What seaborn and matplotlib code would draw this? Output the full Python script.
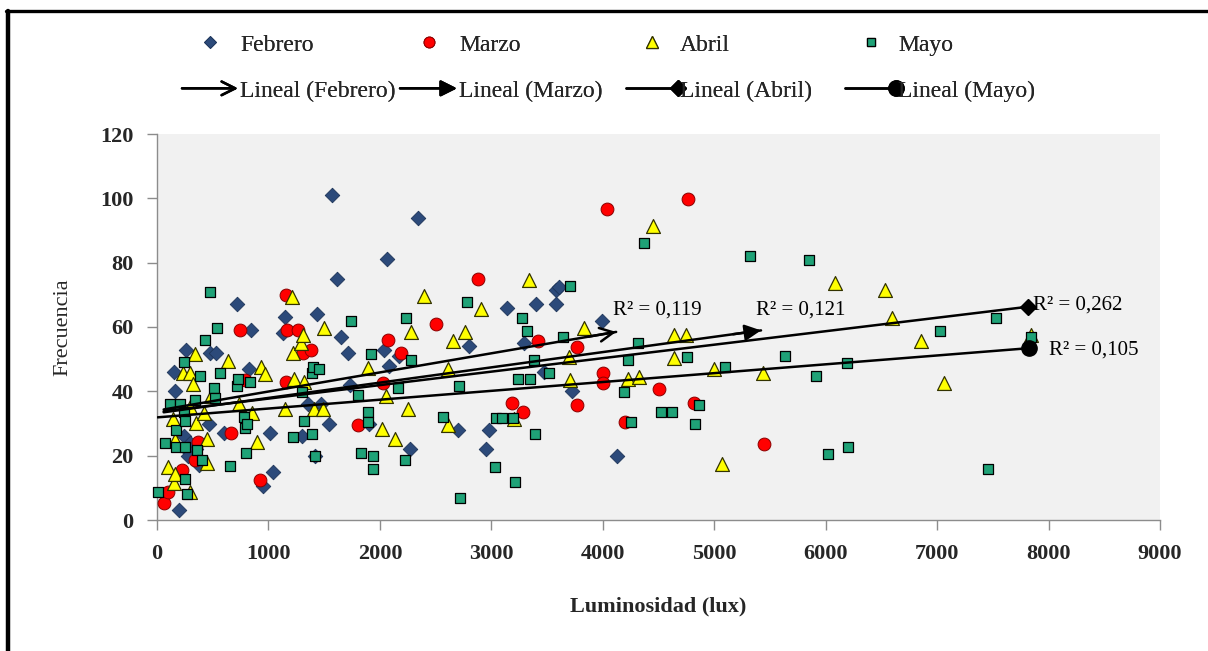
import numpy as np
import pandas as pd
import matplotlib
matplotlib.use("Agg")
import matplotlib.pyplot as plt
import seaborn as sns
from matplotlib.lines import Line2D
from matplotlib.patches import FancyArrowPatch
from matplotlib.legend_handler import HandlerBase

# --- Luminosidad (lux) y frecuencia por mes ---
feb_lux = [1570, 2338, 2060, 1615, 718, 1440, 1145, 840, 1135, 1650, 1710, 2040, 2084, 2174, 2800,
           260, 480, 525, 150, 825, 158, 1734, 1352, 1471, 1540, 470, 604, 1010, 1305, 1900,
           2697, 2975, 245, 260, 300, 280, 350, 380, 1037, 948, 2270, 2948, 194, 1415, 3145,
           3400, 3290, 3579, 3609, 3579, 3997, 3470, 3725, 4132]
feb_freq = [101, 94, 81, 75, 67, 64, 63, 59, 58, 57, 52, 53, 48, 51, 54,
            53, 52, 52, 46, 47, 40, 42, 36, 36, 30, 30, 27, 27, 26, 30,
            28, 28, 26, 22, 24, 20, 22, 17, 15, 10.5, 22, 22, 3, 20, 66,
            67, 55, 71.5, 72.5, 67, 62, 46, 40, 20]

mar_lux = [66, 100, 222, 338, 365, 664, 747, 790, 925, 1155, 1163, 1262, 1307, 1381, 1157,
           2075, 2189, 2024, 1803, 2503, 2876, 3420, 3188, 3287, 3773, 4006, 4006, 3773,
           4500, 4820, 4200, 5448, 4036, 4766]
mar_freq = [5.4, 8.7, 15.5, 18.5, 24.3, 27, 59, 43.5, 12.5, 70, 59, 59, 52, 53, 43,
            56, 52, 42.5, 29.6, 61, 75, 55.5, 36.4, 33.5, 53.7, 45.8, 42.5, 35.8,
            40.6, 36.3, 30.6, 23.6, 96.6, 99.8]

abr_lux = [100, 140, 155, 161, 165, 230, 299, 300, 300, 325, 345, 350, 425, 450, 450,
           484, 640, 733, 850, 897, 933, 969, 1151, 1211, 1217, 1232, 1292, 1313, 1316,
           1405, 1486, 1495, 1890, 2015, 2054, 2135, 2250, 2278, 2398, 2607, 2607, 2652,
           2760, 2903, 3200, 3340, 3700, 3710, 3833, 4222, 4327, 4455, 4640, 4745, 4640,
           5000, 5442, 5066, 6082, 6533, 6598, 6853, 7063, 7840]
abr_freq = [16.6, 31.3, 11.4, 14.4, 25, 45.6, 45.6, 8.7, 35, 42.2, 51.6, 30.3, 33.4, 25.3, 17.6,
            38.5, 49.5, 36, 33.2, 24.4, 47.7, 45.4, 34.4, 69.4, 52, 43.7, 55, 57.5, 43,
            34.4, 34.4, 59.6, 47.4, 28.2, 38.5, 25.2, 34.4, 58.5, 69.6, 46.8, 29.5, 55.6,
            58.5, 65.6, 31.3, 74.6, 50.6, 43.5, 59.7, 43.8, 44.6, 91.5, 57.5, 57.5, 50.3,
            46.8, 45.6, 17.4, 73.6, 71.5, 62.7, 55.6, 42.5, 57.5]

may_lux = [12, 72, 120, 170, 170, 209, 239, 245, 250, 251, 255, 265, 345, 356, 383,
           405, 428, 475, 508, 520, 536, 568, 656, 718, 724, 785, 789, 798, 810, 837,
           1217, 1298, 1318, 1387, 1387, 1400, 1456, 1417, 1740, 1800, 1830, 1890, 1890,
           1920, 1935, 1935, 2165, 2228, 2237, 2280, 2566, 2712, 2721, 2780, 3037, 3041,
           3096, 3190, 3212, 3241, 3273, 3319, 3343, 3379, 3391, 3520, 3645, 3706, 4192,
           4222, 4250, 4315, 4374, 4521, 4620, 4760, 4828, 4864, 5098, 5322, 5633, 5846,
           5917, 6019, 6189, 6204, 7025, 7460, 7526, 7845]
may_freq = [8.7, 23.8, 36, 28, 22.8, 36, 49, 33.7, 22.7, 12.6, 30.9, 8.1, 37.2, 21.8, 44.8,
            18.6, 55.9, 70.8, 40.9, 37.8, 59.8, 45.8, 16.7, 41.7, 43.7, 32, 28.5, 20.7, 29.8, 43,
            25.9, 39.9, 30.7, 26.7, 45.7, 47.7, 46.8, 19.9, 62, 38.9, 20.7, 33.7, 30.6,
            51.7, 19.8, 15.8, 40.9, 18.7, 62.9, 49.7, 31.9, 41.7, 6.7, 67.8, 16.6, 31.8,
            31.8, 31.8, 11.9, 43.7, 62.9, 58.9, 43.7, 49.8, 26.7, 45.8, 57, 72.8, 39.7,
            49.7, 30.6, 55, 86, 33.7, 33.7, 50.8, 29.7, 35.8, 47.7, 82, 51, 80.8,
            44.9, 20.5, 48.9, 22.6, 58.9, 15.8, 62.7, 56.8]

months = ["Febrero", "Marzo", "Abril", "Mayo"]

# Tendencias lineales: rango en x, ordenada y pendiente, y su R²
trend_x0 = [60, 60, 60, 6]
trend_x1 = [4120, 5420, 7816, 7826]
trend_b = [34.0, 33.2, 33.55, 31.9]
trend_m = [0.00594, 0.00475, 0.00419, 0.00275]
r2_labels = ["R² = 0,119", "R² = 0,121", "R² = 0,262", "R² = 0,105"]
r2_pos = [(4090, 65.3), (5372, 65.3), (7860, 66.8), (8000, 52.8)]

x_ticks = list(range(0, 9001, 1000))
y_ticks = list(range(0, 121, 20))

df = pd.concat([
    pd.DataFrame({"lux": feb_lux, "freq": feb_freq, "mes": "Febrero"}),
    pd.DataFrame({"lux": mar_lux, "freq": mar_freq, "mes": "Marzo"}),
    pd.DataFrame({"lux": abr_lux, "freq": abr_freq, "mes": "Abril"}),
    pd.DataFrame({"lux": may_lux, "freq": may_freq, "mes": "Mayo"}),
], ignore_index=True)

styles = {
    "Febrero": dict(marker="D", s=55, color="#2c4a7a", edgecolor="#1d3458", linewidth=0.6),
    "Marzo": dict(marker="o", s=85, color="#ff0000", edgecolor="#8a0000", linewidth=0.7),
    "Abril": dict(marker="^", s=100, color="#ffff00", edgecolor="#333300", linewidth=0.9),
    "Mayo": dict(marker="s", s=42, color="#1fa277", edgecolor="#000000", linewidth=0.9),
}
tips = {"Febrero": "->", "Marzo": "-|>", "Abril": "D", "Mayo": "o"}

# Posición (px) del inicio de cada columna de la leyenda
legend_cols = [182, 400, 626, 845]
legend_hlen = [56, 57, 52, 51]

sns.set_theme(style="white")
plt.rcParams["font.family"] = ["Liberation Serif", "DejaVu Serif"]

W, H = 1208, 651
fig = plt.figure(figsize=(W / 100, H / 100), dpi=100)
fig.patch.set_facecolor("white")
ax = fig.add_axes([157 / W, 131 / H, 1003 / W, 386 / H])
ax.set_facecolor("#f1f1f1")

for i, mes in enumerate(months):
    sub = df[df["mes"] == mes]
    sns.scatterplot(data=sub, x="lux", y="freq", ax=ax, legend=False,
                    zorder=3 + i, clip_on=False, **styles[mes])

for i, mes in enumerate(months):
    xs = np.array([trend_x0[i], trend_x1[i]], dtype=float)
    ys = trend_b[i] + trend_m[i] * xs
    sns.lineplot(x=xs, y=ys, ax=ax, color="black", linewidth=1.8, sort=False,
                 zorder=10, estimator=None)
    tip = tips[mes]
    if tip in ("->", "-|>"):
        back = xs[1] - 250
        ax.annotate("", xy=(xs[1], ys[1]), xytext=(back, trend_b[i] + trend_m[i] * back),
                    arrowprops=dict(arrowstyle=tip + ",head_length=0.7,head_width=0.35",
                                    color="black", lw=1.8, shrinkA=0, shrinkB=0,
                                    mutation_scale=14), zorder=11)
    else:
        ax.plot([xs[1]], [ys[1]], marker=tip, color="black",
                markersize=8 if tip == "D" else 11, linestyle="None", zorder=11,
                clip_on=False)
    tx, ty = r2_pos[i]
    ax.text(tx, ty, r2_labels[i], ha="left", va="center", fontsize=15, color="black",
            zorder=12)

ax.set_xlim(0, 9000)
ax.set_ylim(0, 120)
ax.set_xticks(x_ticks)
ax.set_yticks(y_ticks)
ax.set_xticklabels([str(v) for v in x_ticks], fontsize=16, fontweight="bold")
ax.set_yticklabels([str(v) for v in y_ticks], fontsize=16, fontweight="bold")
ax.tick_params(axis="both", direction="out", length=7, width=1, color="#8c8c8c",
               pad=10, left=True, bottom=True)
for side in ("top", "right"):
    ax.spines[side].set_visible(False)
for side in ("left", "bottom"):
    ax.spines[side].set_color("#8c8c8c")
    ax.spines[side].set_linewidth(1)
ax.grid(False)
ax.set_xlabel("Luminosidad (lux)", fontsize=16, fontweight="bold", labelpad=24)
ax.set_ylabel("Frecuencia", fontsize=16, labelpad=20)


class TrendHandler(HandlerBase):
    def __init__(self, tip):
        super().__init__()
        self.tip = tip

    def create_artists(self, legend, orig_handle, xdescent, ydescent, width, height,
                       fontsize, trans):
        y = height / 2 - ydescent
        x0, x1 = -xdescent, width - xdescent
        if self.tip in ("->", "-|>"):
            arr = FancyArrowPatch((x0, y), (x1, y),
                                  arrowstyle=self.tip + ",head_length=0.7,head_width=0.35",
                                  mutation_scale=14, color="black", lw=1.8,
                                  shrinkA=0, shrinkB=0, transform=trans)
            return [arr]
        line = Line2D([x0, x1], [y, y], color="black", lw=1.8, transform=trans)
        mk = Line2D([x1], [y], marker=self.tip, color="black", linestyle="None",
                    markersize=8 if self.tip == "D" else 11, transform=trans)
        return [line, mk]


LEG_FS = 17
for i, mes in enumerate(months):
    st = styles[mes]
    mk_handle = Line2D([], [], marker=st["marker"], linestyle="None",
                       markersize=np.sqrt(st["s"]) * 0.85, markerfacecolor=st["color"],
                       markeredgecolor=st["edgecolor"], markeredgewidth=st["linewidth"])
    proxy = Line2D([], [], color="black")
    leg = fig.legend([mk_handle, proxy], [mes, f"Lineal ({mes})"],
                     handler_map={proxy: TrendHandler(tips[mes])}, ncol=1,
                     loc="upper left", bbox_to_anchor=(legend_cols[i] / W, 1 - 34 / H),
                     frameon=False, fontsize=LEG_FS,
                     handlelength=legend_hlen[i] / (LEG_FS * 100 / 72),
                     handletextpad=0.08, labelspacing=1.04, borderpad=0, borderaxespad=0)
    fig.add_artist(leg)

# Marco del gráfico
fig.add_artist(Line2D([6 / W, 1], [1 - 10.5 / H, 1 - 10.5 / H], transform=fig.transFigure,
                      color="black", lw=2.4))
fig.add_artist(Line2D([8 / W, 8 / W], [0, 1 - 10.5 / H], transform=fig.transFigure,
                      color="black", lw=3.2))

fig.savefig("out.png", dpi=100, facecolor="white")
